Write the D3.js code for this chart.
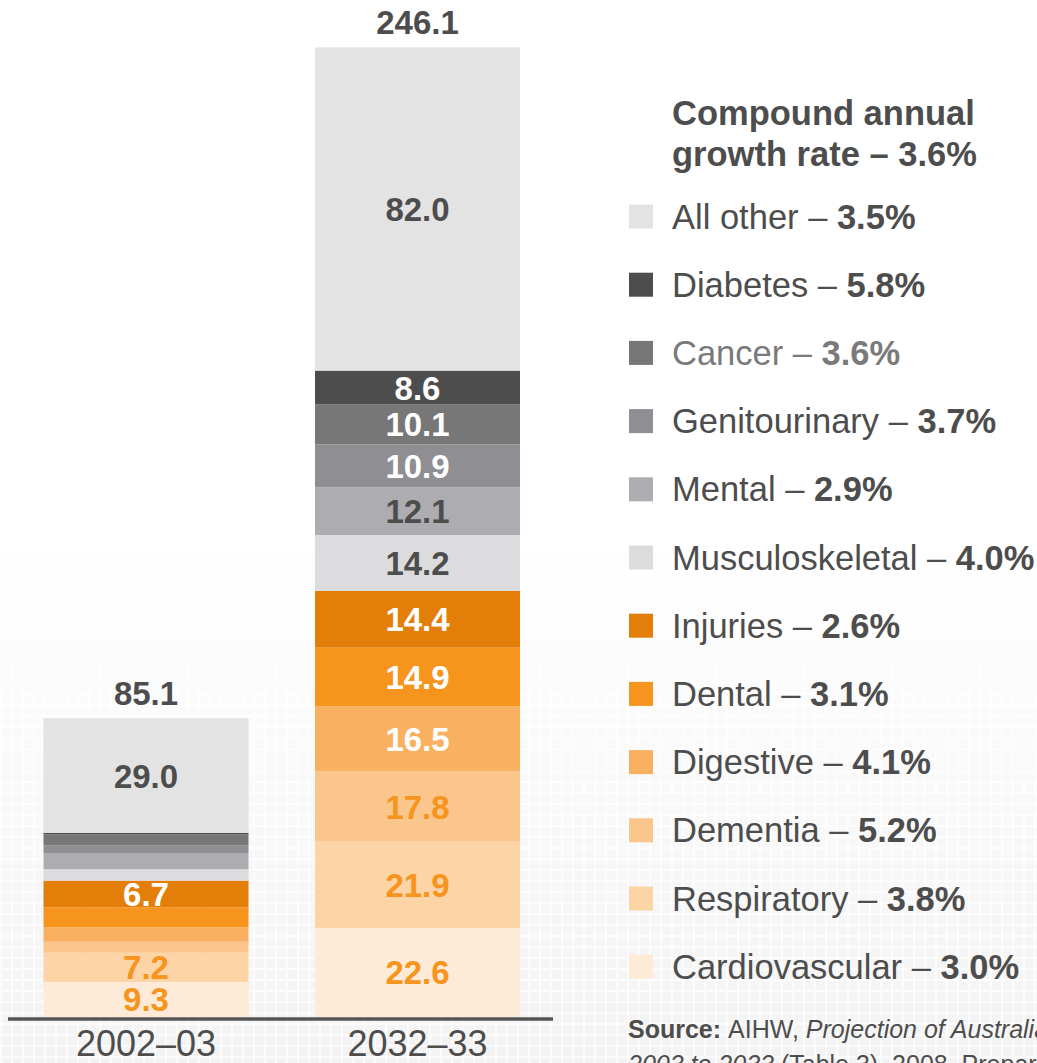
<!DOCTYPE html>
<html>
<head>
<meta charset="utf-8">
<script src="https://cdn.jsdelivr.net/npm/d3@7"></script>
<style>
  html, body { margin: 0; padding: 0; background: #fff; }
  svg { display: block; font-family: "Liberation Sans", Arial, sans-serif; }
</style>
</head>
<body>
<div class="graph"></div>
<script>
const w = 1037;
const h = 1063;

// series, listed top of stack first (same order as the legend)
const categories = ["All other", "Diabetes", "Cancer", "Genitourinary", "Mental", "Musculoskeletal",
                    "Injuries", "Dental", "Digestive", "Dementia", "Respiratory", "Cardiovascular"];
const growth = ["3.5%", "5.8%", "3.6%", "3.7%", "2.9%", "4.0%", "2.6%", "3.1%", "4.1%", "5.2%", "3.8%", "3.0%"];
const years = ["2002–03", "2032–33"];
const values2002 = [29.1, 0.4, 2.8, 1.9, 4.1, 2.9, 6.8, 5.0, 3.7, 2.8, 7.4, 8.9];
const values2032 = [82.0, 8.6, 10.1, 10.9, 12.1, 14.2, 14.4, 14.9, 16.5, 17.8, 21.9, 22.6];
const labels2002 = ["29.0", null, null, null, null, null, "6.7", null, null, null, "7.2", "9.3"];
const labels2032 = ["82.0", "8.6", "10.1", "10.9", "12.1", "14.2", "14.4", "14.9", "16.5", "17.8", "21.9", "22.6"];
const totals = ["85.1", "246.1"];
const totalMax = 246.1;

const colors = ["#e3e3e3", "#4d4d4d", "#777777", "#8e8e93", "#adadb1", "#dcdcde",
                "#e37e09", "#f7941d", "#f9b161", "#fbc68b", "#fcd4a5", "#fdebd7"];
const labelColors = ["#4d4d4d", "#fff", "#fff", "#fff", "#4d4d4d", "#4d4d4d",
                     "#fff", "#fff", "#fff", "#f7941d", "#f7941d", "#f7941d"];
const dark = "#4d4d4d";

const svg = d3.select('.graph')
  .append("svg")
  .attr("width", w)
  .attr("height", h);

// faint textured background towards the bottom
const defs = svg.append("defs");
const pat = defs.append("pattern")
  .attr("id", "tex")
  .attr("width", 11).attr("height", 11)
  .attr("patternUnits", "userSpaceOnUse");
pat.append("rect").attr("width", 11).attr("height", 11).attr("fill", "#f3f3f3");
pat.append("rect").attr("width", 11).attr("height", 2).attr("fill", "#fbfbfb");
pat.append("rect").attr("width", 2).attr("height", 11).attr("fill", "#fbfbfb");
const grad = defs.append("linearGradient")
  .attr("id", "fade").attr("x1", 0).attr("x2", 0).attr("y1", 0).attr("y2", 1);
grad.append("stop").attr("offset", "0.5").attr("stop-color", "#fff").attr("stop-opacity", 0);
grad.append("stop").attr("offset", "1").attr("stop-color", "#fff").attr("stop-opacity", 1);
const mask = defs.append("mask").attr("id", "fademask");
mask.append("rect").attr("width", w).attr("height", h).attr("fill", "url(#fade)");
svg.append("rect").attr("width", w).attr("height", h).attr("fill", "#fff");
svg.append("rect").attr("width", w).attr("height", h)
  .attr("fill", "url(#tex)").attr("mask", "url(#fademask)");

const xScale = d3.scaleBand()
  .domain(years)
  .range([43.5, 520])
  .paddingInner(0.245)
  .paddingOuter(0);

const yScale = d3.scaleLinear()
  .domain([0, totalMax])
  .range([1017, 47]);

// table for d3.stack, bottom of stack first
const keys = categories.slice().reverse();
const table = years.map((yr, j) => {
  const vals = j === 0 ? values2002 : values2032;
  const row = {year: yr};
  categories.forEach((c, i) => row[c] = vals[i]);
  return row;
});
const series = d3.stack().keys(keys)(table);

const layer = svg.selectAll(".layer")
  .data(series)
  .enter().append("g")
  .attr("class", "layer")
  .attr("fill", d => colors[categories.indexOf(d.key)]);

layer.selectAll("rect")
  .data(d => d)
  .enter().append("rect")
  .attr("x", d => xScale(d.data.year))
  .attr("width", xScale.bandwidth())
  .attr("y", d => yScale(d[1]))
  .attr("height", d => yScale(d[0]) - yScale(d[1]));

// segment labels
series.forEach(s => {
  const ci = categories.indexOf(s.key);
  s.forEach((d, j) => {
    const txt = j === 0 ? labels2002[ci] : labels2032[ci];
    if (!txt) return;
    svg.append("text")
      .attr("x", xScale(d.data.year) + xScale.bandwidth() / 2)
      .attr("y", (yScale(d[0]) + yScale(d[1])) / 2 + 12)
      .attr("text-anchor", "middle")
      .style("font-size", "33px")
      .style("font-weight", "bold")
      .attr("fill", labelColors[ci])
      .text(txt);
  });
});

// totals above the bars
const stackTop = series[series.length - 1];
svg.selectAll(".total")
  .data(stackTop)
  .enter().append("text")
  .attr("class", "total")
  .attr("x", d => xScale(d.data.year) + xScale.bandwidth() / 2)
  .attr("y", d => yScale(d[1]) - 13)
  .attr("text-anchor", "middle")
  .style("font-size", "33px")
  .style("font-weight", "bold")
  .attr("fill", dark)
  .text((d, i) => totals[i]);

// base line and year labels
svg.append("line")
  .attr("x1", 8).attr("x2", 553)
  .attr("y1", 1019).attr("y2", 1019)
  .attr("stroke", "#555").attr("stroke-width", 3.5);

const xAxis = svg.append("g")
  .attr("transform", "translate(0, 1019)")
  .call(d3.axisBottom(xScale).tickSize(0).tickPadding(0));
xAxis.select(".domain").remove();
xAxis.selectAll("text")
  .attr("y", 37)
  .attr("dy", 0)
  .attr("fill", dark)
  .style("font-family", "Liberation Sans, Arial, sans-serif")
  .style("font-size", "36px");

// legend
const lx = 672;
svg.append("text")
  .attr("x", lx).attr("y", 125)
  .style("font-size", "34.5px").style("font-weight", "bold")
  .attr("fill", dark)
  .text("Compound annual");
svg.append("text")
  .attr("x", lx).attr("y", 166)
  .style("font-size", "34.5px").style("font-weight", "bold")
  .attr("fill", dark)
  .text("growth rate – 3.6%");

const legend = svg.selectAll(".legend")
  .data(categories)
  .enter().append("g")
  .attr("class", "legend")
  .attr("transform", (d, i) => `translate(0, ${228.5 + i * 68.2})`);

legend.append("rect")
  .attr("x", 629)
  .attr("y", -24)
  .attr("width", 24)
  .attr("height", 24)
  .attr("fill", (d, i) => colors[i]);

const ltext = legend.append("text")
  .attr("x", lx)
  .attr("y", 0)
  .style("font-size", "34.5px")
  .attr("fill", d => d === "Cancer" ? "#7a7a7a" : dark);
ltext.append("tspan").text(d => d + " – ");
ltext.append("tspan").style("font-weight", "bold").text((d, i) => growth[i]);

// source note (runs off the right edge, as in the original slide)
const src = svg.append("text")
  .attr("x", 628).attr("y", 1038)
  .style("font-size", "25px")
  .attr("fill", dark);
src.append("tspan").style("font-weight", "bold").text("Source: ");
src.append("tspan").text("AIHW, ");
src.append("tspan").style("font-style", "italic").text("Projection of Australian health care expenditure by disease,");
const src2 = svg.append("text")
  .attr("x", 628).attr("y", 1073)
  .style("font-size", "25px")
  .attr("fill", dark);
src2.append("tspan").style("font-style", "italic").text("2003 to 2033");
src2.append("tspan").text(" (Table 3), 2008, Prepared");
</script>
</body>
</html>
